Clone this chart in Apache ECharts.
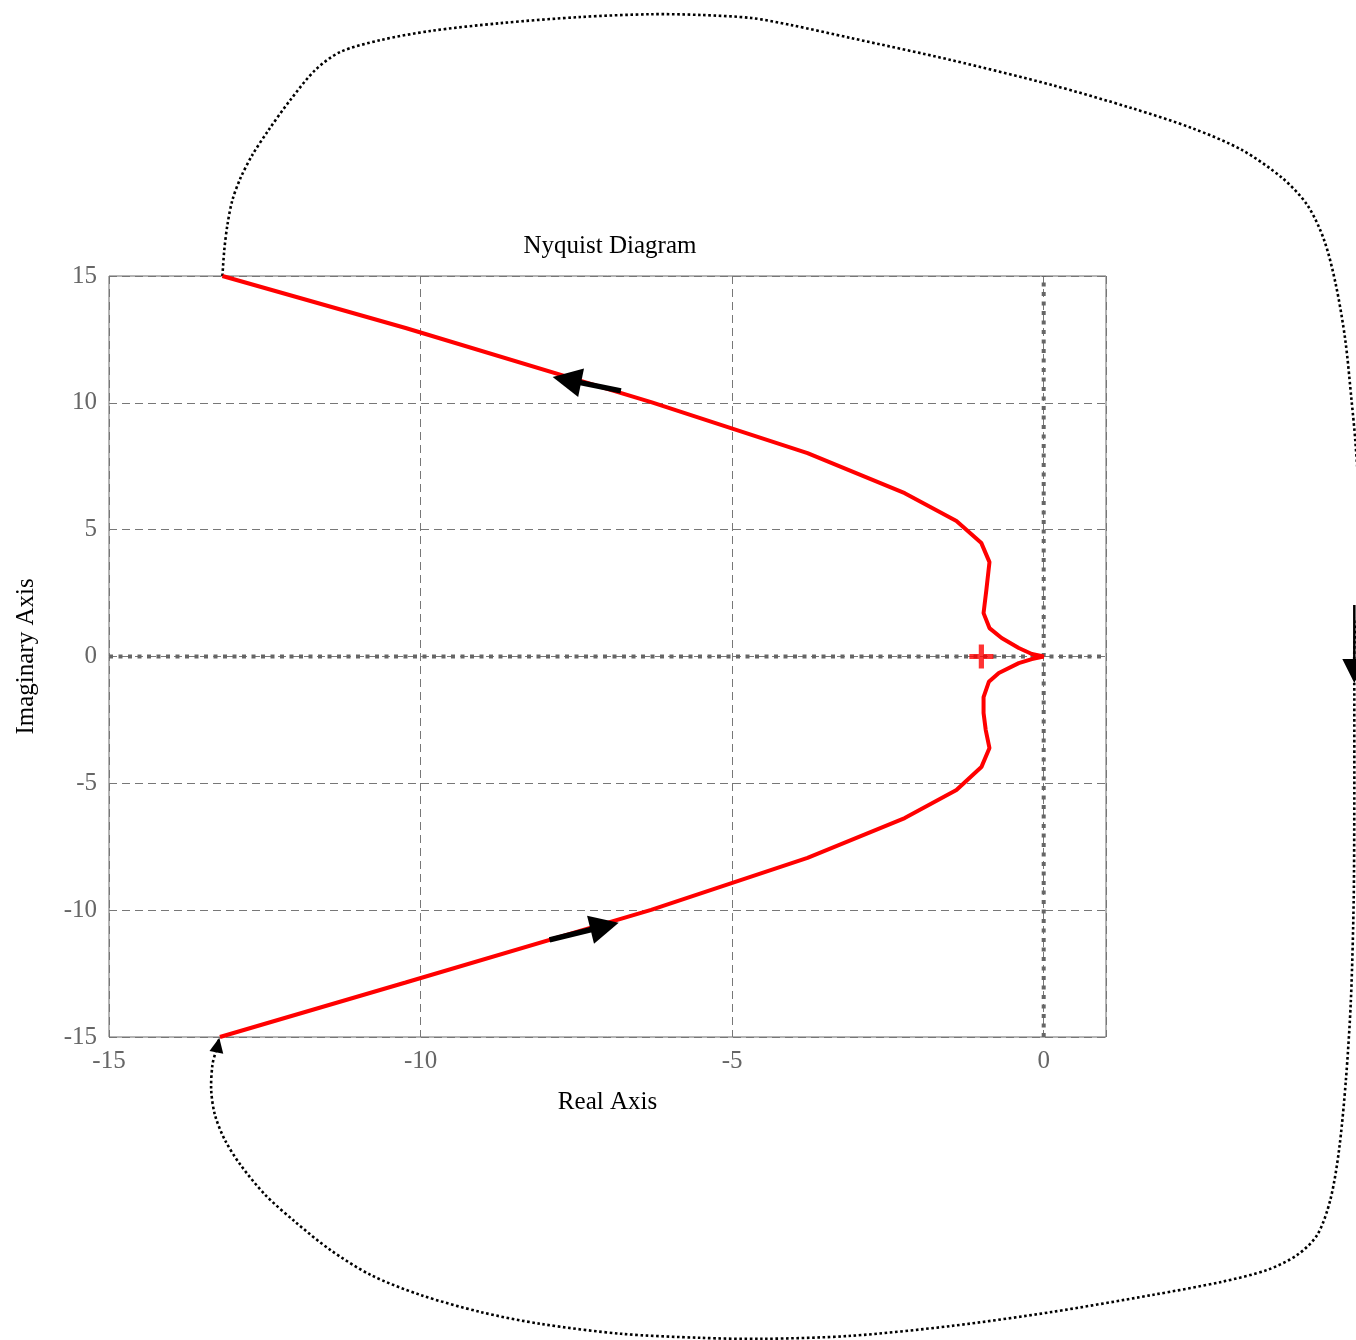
<!DOCTYPE html>
<html>
<head>
<meta charset="utf-8">
<title>Nyquist Diagram</title>
<script src="https://cdn.jsdelivr.net/npm/echarts@6/dist/echarts.min.js"></script>
<style>
  html, body { margin: 0; padding: 0; background: #ffffff; }
  #chart { width: 1356px; height: 1340px; }
</style>
</head>
<body>
<div id="chart"></div>
<script>
// Nyquist locus (solid red): from the upper end, through the origin, to the lower end
const nyquistRe = [-13.18, -10.24, -6.30, -3.79, -2.23, -1.40, -1.00, -0.87, -0.92, -0.965, -0.87, -0.675, -0.40, -0.19, 0,
                   -0.19, -0.40, -0.72, -0.88, -0.965, -0.965, -0.93, -0.87, -1.00, -1.40, -2.23, -3.79, -6.30, -10.24, -13.22];
const nyquistIm = [15.0, 12.95, 10.03, 8.02, 6.44, 5.34, 4.47, 3.72, 2.62, 1.71, 1.12, 0.73, 0.335, 0.10, 0,
                   -0.10, -0.26, -0.65, -1.00, -1.60, -2.23, -2.90, -3.61, -4.36, -5.26, -6.37, -7.94, -9.99, -12.85, -15.0];

// Closing contour at large radius (dotted black)
const contourRe = [-13.18, -13.15, -13.10, -13.02, -12.89, -12.70, -12.44, -12.09, -11.69, -11.29, -10.64, -9.84, -8.71, -7.43,
                   -6.30, -5.50, -4.69, -4.05, -3.09, -1.48, 0.13, 1.41, 2.38, 3.18, 3.83, 4.23, 4.50, 4.69, 4.84, 4.94,
                   5.00, 5.08, 5.06, 4.99, 4.985, 4.985, 4.975, 4.93, 4.85, 4.74, 4.60, 4.39, 4.07, 3.59, 2.86, 1.74, 0.13,
                   -1.48, -3.09, -4.53, -5.50, -6.78, -8.07, -9.04, -10.00, -10.80, -11.45, -12.01, -12.49, -12.89, -13.14,
                   -13.30, -13.36, -13.34, -13.28, -13.23];
const contourIm = [15.0, 16.02, 17.01, 17.99, 18.86, 19.77, 20.75, 21.94, 23.12, 23.83, 24.30, 24.66, 24.97, 25.21,
                   25.32, 25.29, 25.17, 24.89, 24.38, 23.51, 22.53, 21.62, 20.83, 19.97, 18.86, 17.80, 16.42, 14.64, 12.48, 10.11,
                   8.53, 5.38, 2.23, 0.60, -1.71, -5.66, -9.60, -13.54, -16.69, -19.45, -21.42, -22.80, -23.59, -24.18, -24.65, -25.17, -25.84,
                   -26.39, -26.78, -26.90, -26.86, -26.70, -26.31, -25.84, -25.17, -24.38, -23.39, -22.29, -21.23, -20.04, -19.06,
                   -18.07, -17.09, -16.10, -15.51, -15.04];

// Direction arrows on the locus: [tailRe, tailIm, tipRe, tipIm]
const locusArrows = [
  [-6.785, 10.47, -7.88, 11.02],
  [-7.93, -11.17, -6.82, -10.50]
];
// Direction arrows on the contour
const contourArrows = [
  [4.985, 2.03, 4.985, -1.04]
];
const contourHeadOnly = [
  [-13.28, -15.65, -13.23, -15.03]
];

// Critical point -1 + 0j
const criticalPoint = [[-1, 0]];

// Real and imaginary zero lines
const zeroLineRe = [[0, -15], [0, 15]];
const zeroLineIm = [[-15, 0], [1, 0]];

// Axis ranges and tick step
const xRange = [-15, 1];
const yRange = [-15, 15];
const tickStep = 5;

const FONT = '"Liberation Serif", "DejaVu Serif", serif';

function zipPoints(xs, ys) {
  return xs.map((x, i) => [x, ys[i]]);
}

const contourPoints = zipPoints(contourRe, contourIm);

// Draws an arrow from tail to tip with a filled triangular head
function arrowRenderer(headLen, headWidth, shaftWidth) {
  return function (params, api) {
    const p0 = api.coord([api.value(0), api.value(1)]);
    const p1 = api.coord([api.value(2), api.value(3)]);
    const dx = p1[0] - p0[0], dy = p1[1] - p0[1];
    const len = Math.hypot(dx, dy) || 1;
    const ux = dx / len, uy = dy / len;
    const nx = -uy, ny = ux;
    const bx = p1[0] - ux * headLen, by = p1[1] - uy * headLen;
    const children = [];
    if (shaftWidth > 0 && len > headLen) {
      children.push({
        type: 'line',
        shape: { x1: p0[0], y1: p0[1], x2: bx + ux * 2, y2: by + uy * 2 },
        style: { stroke: '#000000', lineWidth: shaftWidth }
      });
    }
    children.push({
      type: 'polygon',
      shape: {
        points: [
          [p1[0], p1[1]],
          [bx + nx * headWidth / 2, by + ny * headWidth / 2],
          [bx - nx * headWidth / 2, by - ny * headWidth / 2]
        ]
      },
      style: { fill: '#000000' }
    });
    return { type: 'group', children: children };
  };
}

// The contour runs outside the axis ranges, so it is drawn as one unclipped polyline
function contourRenderer(params, api) {
  if (params.dataIndex !== 0) return null;
  const pts = contourPoints.map(p => api.coord(p));
  return {
    type: 'polyline',
    shape: { points: pts, smooth: 0.3 },
    style: { stroke: '#000000', lineWidth: 2.6, lineDash: [2.6, 2.6], fill: null }
  };
}

const chart = echarts.init(document.getElementById('chart'), null, { renderer: 'canvas' });

chart.setOption({
  backgroundColor: '#ffffff',
  animation: false,
  title: {
    text: 'Nyquist Diagram',
    left: 605,
    top: 229,
    textAlign: 'center',
    textStyle: { fontFamily: FONT, fontSize: 25, fontWeight: 'normal', color: '#000000' }
  },
  grid: {
    left: 109,
    top: 276,
    width: 997,
    height: 761,
    show: true,
    borderColor: '#6a6a6a',
    borderWidth: 1,
    containLabel: false
  },
  xAxis: {
    type: 'value',
    min: xRange[0],
    max: xRange[1],
    interval: tickStep,
    name: 'Real Axis',
    nameLocation: 'middle',
    nameGap: 53,
    nameTextStyle: { fontFamily: FONT, fontSize: 25, color: '#000000' },
    axisLine: { show: false },
    axisTick: { show: false },
    axisLabel: {
      fontFamily: FONT, fontSize: 25, color: '#666666', margin: 12,
      showMaxLabel: false,
      formatter: v => (v % tickStep === 0 ? String(v) : '')
    },
    splitLine: { show: true, lineStyle: { color: '#777777', width: 1, type: [8, 5] } }
  },
  yAxis: {
    type: 'value',
    min: yRange[0],
    max: yRange[1],
    interval: tickStep,
    name: 'Imaginary Axis',
    nameLocation: 'middle',
    nameGap: 70,
    nameTextStyle: { fontFamily: FONT, fontSize: 25, color: '#000000' },
    axisLine: { show: false },
    axisTick: { show: false },
    axisLabel: { fontFamily: FONT, fontSize: 25, color: '#666666', margin: 12 },
    splitLine: { show: true, lineStyle: { color: '#777777', width: 1, type: [8, 5] } }
  },
  series: [
    {
      type: 'line',
      data: zeroLineRe,
      symbol: 'none',
      silent: true,
      z: 2,
      lineStyle: { color: '#666666', width: 4, type: [4, 5.5] }
    },
    {
      type: 'line',
      data: zeroLineIm,
      symbol: 'none',
      silent: true,
      z: 2,
      lineStyle: { color: '#666666', width: 4, type: [4, 5.5] }
    },
    {
      type: 'custom',
      data: contourPoints,
      clip: false,
      silent: true,
      z: 3,
      renderItem: contourRenderer
    },
    {
      type: 'line',
      data: zipPoints(nyquistRe, nyquistIm),
      symbol: 'none',
      clip: false,
      z: 4,
      lineStyle: { color: '#ff0000', width: 4, join: 'bevel' }
    },
    {
      type: 'scatter',
      data: criticalPoint,
      symbol: 'path://M9,0H14V9H23V14H14V23H9V14H0V9H9Z',
      symbolSize: 24,
      z: 5,
      itemStyle: { color: '#ff0000' }
    },
    {
      type: 'custom',
      data: locusArrows,
      clip: false,
      z: 6,
      renderItem: arrowRenderer(29, 29, 5.5)
    },
    {
      type: 'custom',
      data: contourArrows,
      clip: false,
      z: 6,
      renderItem: arrowRenderer(24, 24, 2.5)
    },
    {
      type: 'custom',
      data: contourHeadOnly,
      clip: false,
      z: 6,
      renderItem: arrowRenderer(15, 14, 0)
    }
  ]
});
</script>
</body>
</html>
